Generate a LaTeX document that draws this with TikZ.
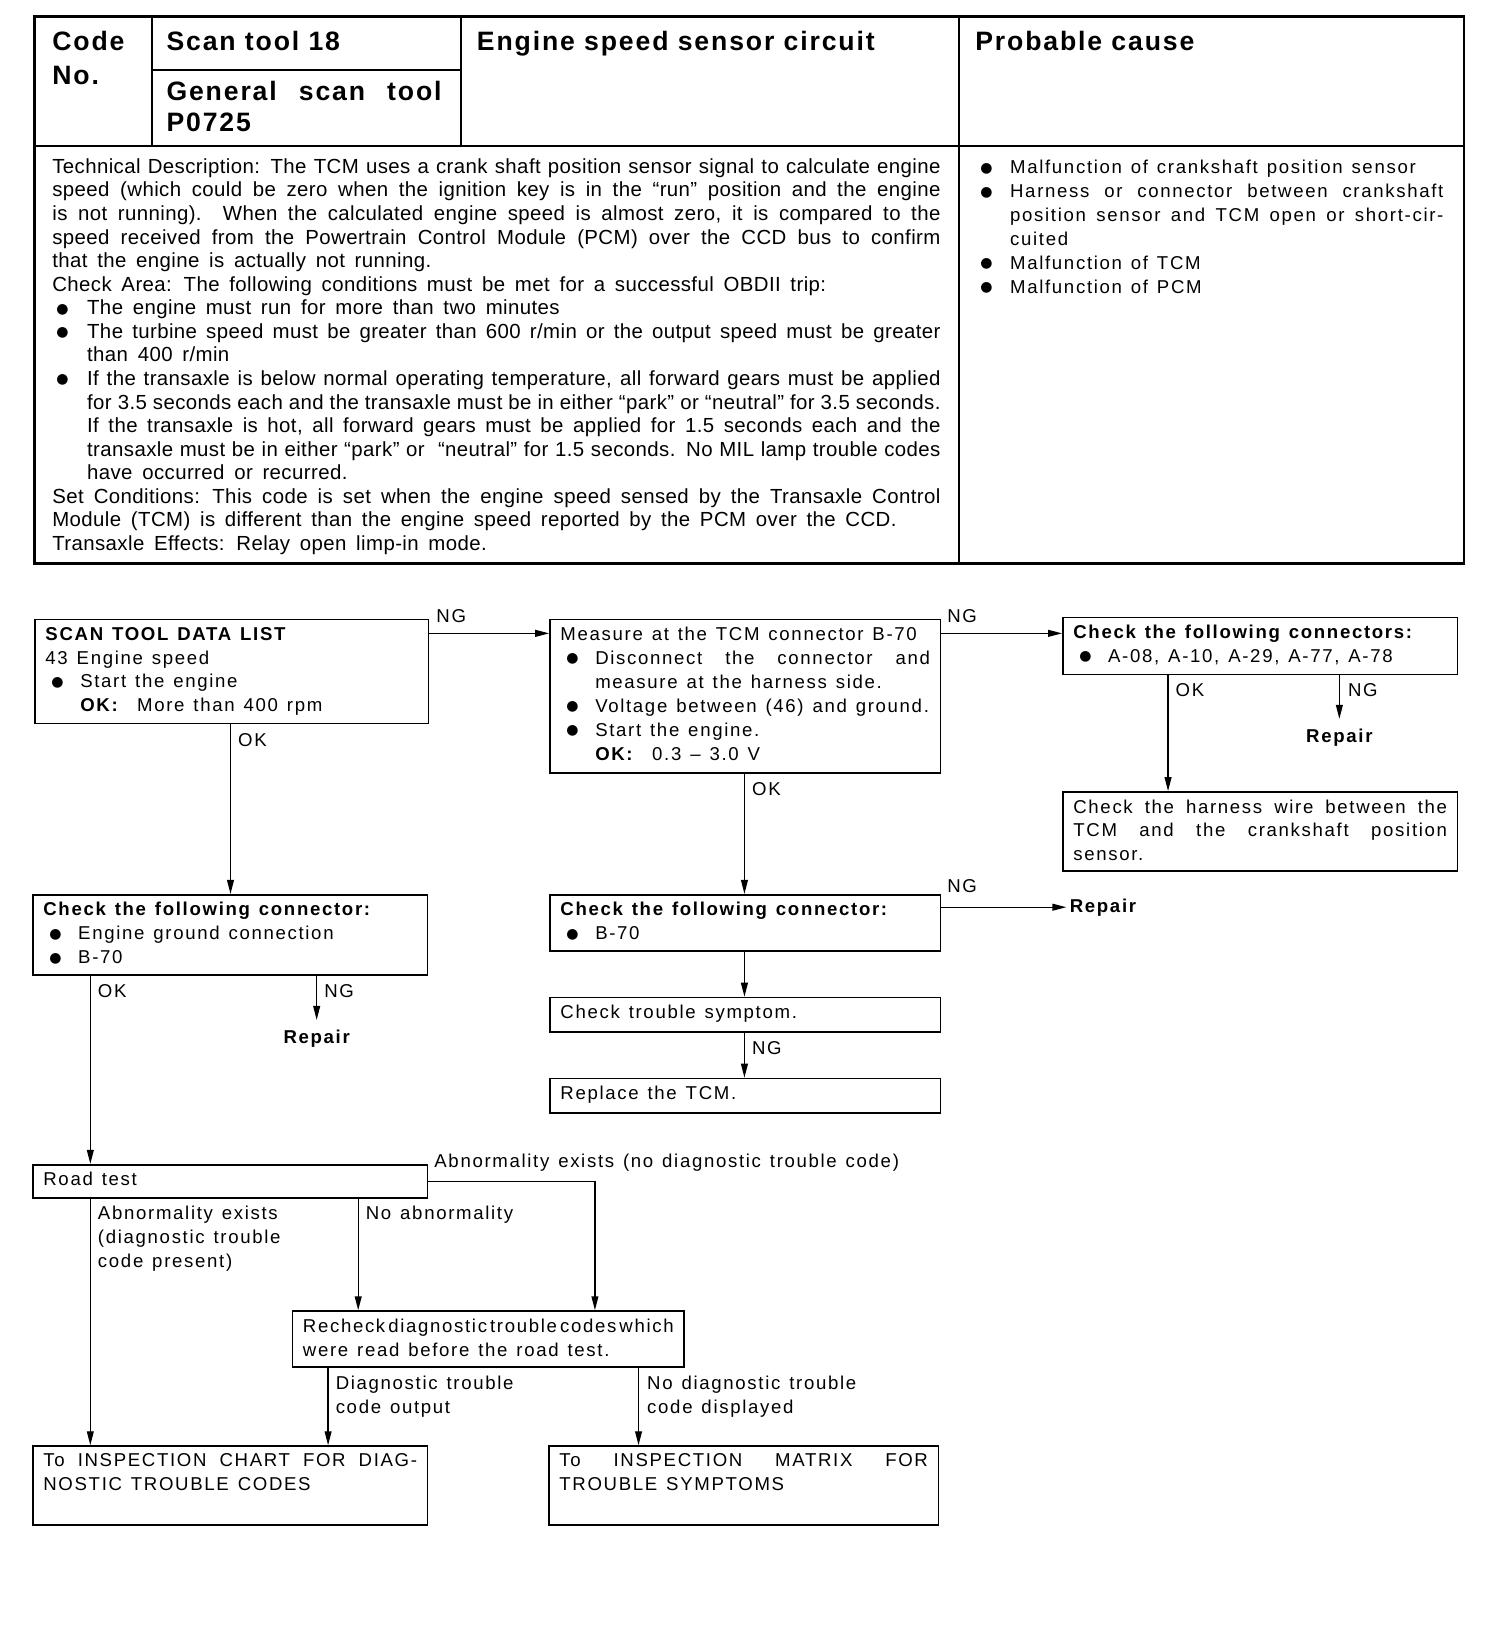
\documentclass[tikz,border=0pt]{standalone}
\usepackage{fontspec}
\usepackage{graphicx}
\setmainfont{Liberation Sans}
\newfontfamily\bodyfont{Liberation Sans}[LetterSpace=2,WordSpace={1.6,1,2.2}]
\newfontfamily\fcfont{Liberation Sans}[LetterSpace=9,WordSpace={1.3,1,2}]
\newfontfamily\hdfont{Liberation Sans}[LetterSpace=7]
\newfontfamily\symfont{DejaVu Sans}
\usetikzlibrary{arrows.meta}
\newlength\itind
\setlength\itind{17.4pt}
\newcommand\bul{\raisebox{0.8pt}{\symfont\fontsize{7}{7}\selectfont ●}}
\newcommand\itm[2][3pt]{\par\hangindent=\itind\hangafter=1\noindent\makebox[\itind][l]{\hspace*{#1}\bul}#2\par}
\newcommand\okline[1]{\par\noindent\hspace*{\itind}#1\par}
\newcommand\fcsz{\fcfont\fontsize{9.3}{11.94}\selectfont}
\newcommand\hdsz{\hdfont\bfseries\fontsize{13.3}{16.6}\selectfont}
\newcommand\bx[3]{\parbox[t][#2][t]{#1}{\hbadness=10000 #3}}
\hbadness=10000
\tikzset{
  box/.style={draw, line width=0.8pt, anchor=north west, inner xsep=5.2pt, inner ysep=3.8pt, font=\fcsz},
  lab/.style={anchor=base west, inner sep=0pt, font=\fcsz},
  rep/.style={inner sep=0pt, font=\fcsz\bfseries},
  arr/.style={line width=0.7pt, -{Triangle[length=7pt,width=3.4pt]}},
  hd/.style={anchor=base west, inner sep=0pt, font=\hdsz},
}
\begin{document}
\begin{tikzpicture}[x=0.519pt, y=-0.519pt]
\useasboundingbox (0,0) rectangle (1449,1568);
\fill[white] (0,0) rectangle (1449,1568);

% ---------- table ----------
\draw[line width=1.4pt] (33,16) rectangle (1410,543);
\draw[line width=1pt] (33,141) -- (1410,141);
\draw[line width=1pt] (146,16) -- (146,141);
\draw[line width=1pt] (444,16) -- (444,141);
\draw[line width=1pt] (924,16) -- (924,543);
\draw[line width=1pt] (146,67) -- (444,67);

\node[hd] (code) at (50,49) {\parbox[t]{50pt}{Code\\No.}};
\node[hd] (st18) at (160,49) {Scan tool 18};
\node[hd] (gst) at (160,97) {\parbox[t]{137.5pt}{\fontsize{13.3}{15.6}\selectfont\hbadness=10000 General scan tool\linebreak P0725}};
\node[hd] (title) at (459,49) {Engine speed sensor circuit};
\node[hd] (pc) at (939,49) {Probable cause};

\node[anchor=base west, inner sep=0pt] (desc) at (50,167) {\parbox[t]{444pt}{\bodyfont\fontsize{10.2}{11.78}\selectfont\hbadness=10000
Technical Description: The TCM uses a crank shaft position sensor signal to calculate engine\linebreak
speed (which could be zero when the ignition key is in the “run” position and the engine\linebreak
is not running).\ \ When the calculated engine speed is almost zero, it is compared to the\linebreak
speed received from the Powertrain Control Module (PCM) over the CCD bus to confirm\linebreak
that the engine is actually not running.\par
Check Area: The following conditions must be met for a successful OBDII trip:\par
\itm[2pt]{The engine must run for more than two minutes}
\itm[2pt]{The turbine speed must be greater than 600 r/min or the output speed must be greater\linebreak than 400 r/min}
\itm[2pt]{If the transaxle is below normal operating temperature, all forward gears must be applied\linebreak
for 3.5 seconds each and the transaxle must be in either “park” or “neutral” for 3.5 seconds.\linebreak
If the transaxle is hot, all forward gears must be applied for 1.5 seconds each and the\linebreak
transaxle must be in either “park” or \ “neutral” for 1.5 seconds. No MIL lamp trouble codes\linebreak
have occurred or recurred.}
Set Conditions: This code is set when the engine speed sensed by the Transaxle Control\linebreak
Module (TCM) is different than the engine speed reported by the PCM over the CCD.\par
Transaxle Effects: Relay open limp-in mode.}};

\node[anchor=base west, inner sep=0pt] (cause) at (939,167.4) {\parbox[t]{234pt}{\fcsz\hbadness=10000
\itm[2.5pt]{Malfunction of crankshaft position sensor}
\itm[2.5pt]{Harness or connector between crankshaft\linebreak position sensor and TCM open or short-cir-\linebreak cuited}
\itm[2.5pt]{Malfunction of TCM}
\itm[2.5pt]{Malfunction of PCM}}};

% ---------- flowchart boxes ----------
\node[box] (b1) at (33,596) {\bx{186.3pt}{44.3pt}{\textbf{SCAN TOOL DATA LIST}\par
43 Engine speed\par
\itm{Start the engine}
\okline{\textbf{OK:}\ \ More than 400 rpm}}};

\node[box] (b2) at (529,596) {\bx{184.7pt}{69.2pt}{Measure at the TCM connector B-70\par
\itm{Disconnect the connector and\linebreak measure at the harness side.}
\itm{Voltage between (46) and ground.}
\itm{Start the engine.}
\okline{\textbf{OK:}\ \ 0.3 – 3.0 V}}};

\node[box] (b3) at (1023,594) {\bx{186.8pt}{20.9pt}{\textbf{Check the following connectors:}\par
\itm{A-08, A-10, A-29, A-77, A-78}}};

\node[box] (b4) at (1023,762) {\bx{186.8pt}{31.8pt}{Check the harness wire between the\linebreak TCM and the crankshaft position\linebreak sensor.}};

\node[box] (b5) at (31,861) {\bx{186.8pt}{32.4pt}{\textbf{Check the following connector:}\par
\itm{Engine ground connection}
\itm{B-70}}};

\node[box] (b6) at (529,861) {\bx{184.7pt}{20.4pt}{\textbf{Check the following connector:}\par
\itm{B-70}}};

\node[box] (b7) at (529,960) {\bx{184.7pt}{9.5pt}{Check trouble symptom.}};
\node[box] (b8) at (529,1038) {\bx{184.7pt}{9.5pt}{Replace the TCM.}};
\node[box] (road) at (31,1121) {\bx{186.8pt}{9.0pt}{Road test}};
\node[box] (rc) at (281,1262) {\bx{185.3pt}{20.4pt}{\resizebox{\linewidth}{\height}{Recheck\,diagnostic\,trouble\,codes\,which}\par
were read before the road test.}};
\node[box] (f1) at (31,1392) {\bx{186.8pt}{31.8pt}{To INSPECTION CHART FOR DIAG-\linebreak NOSTIC TROUBLE CODES}};
\node[box] (f2) at (528,1392) {\bx{184.2pt}{31.8pt}{To INSPECTION MATRIX FOR\linebreak TROUBLE SYMPTOMS}};

% ---------- repair nodes ----------
\node[rep, anchor=base] (rep1) at (1290,715.4) {Repair};
\node[rep, anchor=base] (rep2) at (305,1005.4) {Repair};
\node[rep, anchor=base west] (rep3) at (1030,878.4) {Repair};

% ---------- labels ----------
\node[lab] (ng1) at (420,599.4) {NG};
\node[lab] (ng2) at (912,599.4) {NG};
\node[lab] (okb3) at (1132,670.4) {OK};
\node[lab] (ngb3) at (1298,670.4) {NG};
\node[lab] (okb1) at (229,719.4) {OK};
\node[lab] (okb5) at (94,960.4) {OK};
\node[lab] (ngb5) at (312,960.4) {NG};
\node[lab] (okb2) at (724,766.4) {OK};
\node[lab] (ngb6) at (912,859.4) {NG};
\node[lab] (ngb7) at (724,1015.4) {NG};
\node[lab] (abn1) at (418,1124.4) {Abnormality exists (no diagnostic trouble code)};
\node[lab] (abn2) at (94,1174.4) {\parbox[t]{100pt}{\raggedright Abnormality exists\\(diagnostic trouble\\code present)}};
\node[lab] (noab) at (352,1174.4) {No abnormality};
\node[lab] (dtc) at (323,1338.4) {\parbox[t]{100pt}{\raggedright Diagnostic trouble\\code output}};
\node[lab] (ndtc) at (623,1338.4) {\parbox[t]{110pt}{\raggedright No diagnostic trouble\\code displayed}};

% ---------- connectors ----------
\draw[arr] (b1.east |- 0,610) -- (b2.west |- 0,610);
\draw[arr] (b2.east |- 0,610) -- (b3.west |- 0,610);
\draw[arr] (b3.south -| 1125,0) -- (b4.north -| 1125,0);
\draw[arr, shorten >=5pt] (b3.south -| rep1.north) -- (rep1.north);
\draw[arr] (b1.south -| 222,0) -- (b5.north -| 222,0);
\draw[arr] (b5.south -| 87,0) -- (road.north -| 87,0);
\draw[arr, shorten >=5pt] (b5.south -| rep2.north) -- (rep2.north);
\draw[arr] (b2.south -| 717,0) -- (b6.north -| 717,0);
\draw[arr, shorten >=1.5pt] (b6.east |- rep3.west) -- (rep3.west);
\draw[arr] (b6.south -| 717,0) -- (b7.north -| 717,0);
\draw[arr] (b7.south -| 717,0) -- (b8.north -| 717,0);
\draw[arr] (road.east) -| (rc.north -| 573,0);
\draw[arr] (road.south -| 345,0) -- (rc.north -| 345,0);
\draw[arr] (road.south -| 87,0) -- (f1.north -| 87,0);
\draw[arr] (rc.south -| 316,0) -- (f1.north -| 316,0);
\draw[arr] (rc.south -| 615,0) -- (f2.north -| 615,0);
\end{tikzpicture}
\end{document}
